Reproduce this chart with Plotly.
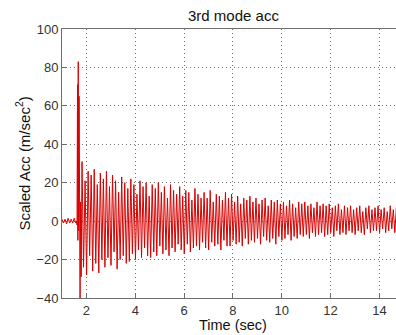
import numpy as np
import plotly.graph_objects as go

# --- data ---
pre_t0 = 1.0
pre_dt = 1 / 16
pre_vals = [1, -1, 1, -1.5, 1.5, -1, 1, -1, 1.5, -1]

spike_t = [1.600, 1.615, 1.635, 1.650, 1.665, 1.680, 1.700, 1.720, 1.740, 1.760, 1.785]
spike_v = [0, -2, 71, -10, 83, -5, 65, -18, -40, 10, -29]

main_t0 = 1.82
main_dt = 1 / 16
main_vals = [
    31, -24, 21, -28, 26, -18, 24, -26, 27, -22, 19, -27, 25, -20, 22, -24,
    26, -19, 18, -23, 24, -16, 21, -25, 15, -20, 23, -18, 20, -22, 17, -21,
    22, -17, 19, -20, 14, -15, 21, -19, 18, -14, 20, -18, 13, -19, 19, -16,
    17, -18, 20, -13, 15, -17, 18, -15, 12, -18, 19, -14, 16, -16, 14, -12,
    18, -15, 13, -17, 16, -12, 15, -16, 11, -14, 17, -13, 14, -15, 12, -11,
    15, -14, 12, -15, 16, -11, 10, -13, 14, -12, 13, -15, 11, -10, 15, -13,
    12, -13, 14, -10, 10, -12, 13, -11, 9, -13, 12, -9, 11, -12, 13, -10,
    10, -11, 12, -9, 9, -12, 11, -8, 12, -10, 8, -11, 11, -9, 10, -12,
    11, -8, 9, -10, 10, -9, 8, -7, 11, -10, 9, -8, 7, -9, 10, -7,
    9, -8, 10, -7, 8, -9, 9, -6, 7, -8, 10, -7, 8, -6, 9, -8,
    8, -7, 9, -6, 7, -8, 8, -5, 9, -7, 6, -6, 8, -7, 7, -5,
    8, -6, 6, -7, 7, -5, 8, -6, 5, -7, 7, -4, 8, -6, 6, -5,
    7, -5, 8, -6, 6, -4, 7, -6, 5, -5, 8, -4, 6, -6, 7, -5,
]

x_ticks = [2, 4, 6, 8, 10, 12, 14]
y_ticks = [-40, -20, 0, 20, 40, 60, 80, 100]
x_range = [1.0, 14.68]
y_range = [-40, 100]

title_text = "3rd mode acc"
x_title = "Time (sec)"
y_title = "Scaled Acc (m/sec<sup>2</sup>)"

# --- build series ---
pre_t = pre_t0 + pre_dt * np.arange(len(pre_vals))
main_t = main_t0 + main_dt * np.arange(len(main_vals))
t = np.concatenate([pre_t, np.array(spike_t), main_t])
v = np.concatenate([np.array(pre_vals, float), np.array(spike_v, float), np.array(main_vals, float)])

W, H = 396, 335
L, R, T, B = 62, 0, 29, 37

fig = go.Figure()
fig.add_trace(go.Scatter(x=t, y=v, mode="lines",
                         line=dict(color="#d80000", width=1), hoverinfo="skip"))

FONT = "Liberation Sans, Arial, sans-serif"
axis_common = dict(showline=True, linecolor="#6e6e6e", linewidth=1,
                   showgrid=True, gridcolor="#707070", griddash="1px,3px", gridwidth=1,
                   zeroline=False, ticks="inside", ticklen=4, tickcolor="#6e6e6e",
                   tickfont=dict(family=FONT, size=13, color="#333333"))

fig.update_layout(
    width=W, height=H,
    margin=dict(l=L, r=R, t=T, b=B),
    paper_bgcolor="white", plot_bgcolor="white",
    showlegend=False,
    xaxis=dict(range=x_range, tickvals=x_ticks, mirror=True, **axis_common),
    yaxis=dict(range=y_range, tickvals=y_ticks, mirror=False, **axis_common),
    font=dict(family=FONT, color="#222222"),
)

pw = W - L - R
ph = H - T - B
fig.add_annotation(text=title_text, xref="paper", yref="paper",
                   x=(233 - L) / pw, y=1 + (T - 15) / ph, showarrow=False,
                   xanchor="center", yanchor="middle",
                   font=dict(family=FONT, size=15, color="#111111"))
fig.add_annotation(text=x_title, xref="paper", yref="paper",
                   x=(233 - L) / pw, y=-(325 - (H - B)) / ph, showarrow=False,
                   xanchor="center", yanchor="middle",
                   font=dict(family=FONT, size=14.5, color="#111111"))
fig.add_annotation(text=y_title, xref="paper", yref="paper",
                   x=-(L - 23) / pw, y=0.5, showarrow=False, textangle=-90,
                   xanchor="center", yanchor="middle",
                   font=dict(family=FONT, size=15, color="#111111"))

fig.write_html("out.html", config={"displayModeBar": False, "staticPlot": True},
               post_script="document.body.style.margin='0';document.body.style.overflow='hidden';")
